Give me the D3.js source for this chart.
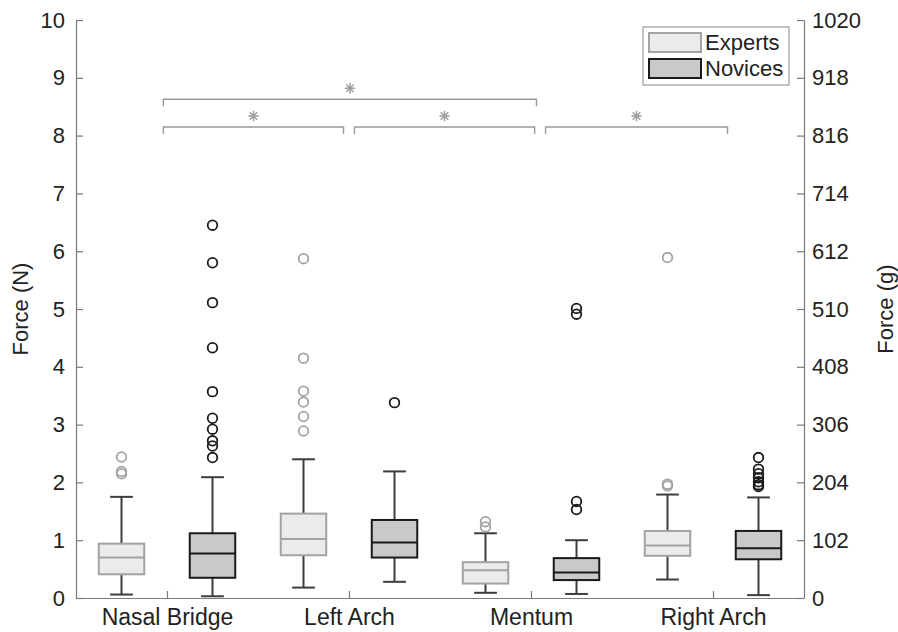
<!DOCTYPE html>
<html>
<head>
<meta charset="utf-8">
<script src="https://cdn.jsdelivr.net/npm/d3@7"></script>
<style>
  html, body { margin: 0; padding: 0; background: #fff; }
  svg { display: block; }
  text { font-family: "Liberation Sans", Arial, Helvetica, sans-serif; fill: #222; }
</style>
</head>
<body>
<svg id="chart" width="898" height="632"></svg>
<script>
// ---- data ----
const categories = ["Nasal Bridge", "Left Arch", "Mentum", "Right Arch"];
const groups = ["Experts", "Novices"];
// [lower whisker, Q1, median, Q3, upper whisker] in N
const expertsBox = [
  [0.06, 0.41, 0.70, 0.94, 1.75],
  [0.18, 0.74, 1.02, 1.46, 2.40],
  [0.09, 0.25, 0.48, 0.62, 1.12],
  [0.32, 0.73, 0.91, 1.16, 1.79]
];
const novicesBox = [
  [0.03, 0.35, 0.77, 1.12, 2.09],
  [0.28, 0.70, 0.96, 1.35, 2.19],
  [0.07, 0.31, 0.44, 0.69, 1.00],
  [0.05, 0.67, 0.86, 1.16, 1.74]
];
const expertsOutliers = [
  [2.44, 2.19, 2.15],
  [5.87, 4.15, 3.58, 3.39, 3.14, 2.89],
  [1.32, 1.23],
  [5.89, 1.97, 1.94]
];
const novicesOutliers = [
  [6.45, 5.80, 5.11, 4.33, 3.57, 3.11, 2.92, 2.72, 2.63, 2.43],
  [3.38],
  [5.01, 4.91, 1.67, 1.53],
  [2.43, 2.23, 2.15, 2.08, 2.01, 1.96, 1.93]
];
const leftTicks = [0, 1, 2, 3, 4, 5, 6, 7, 8, 9, 10];
const rightTicks = [0, 102, 204, 306, 408, 510, 612, 714, 816, 918, 1020];
// significance brackets: x in category-position units (1..4), y in N
const brackets = [
  { x0: 0.98, x1: 1.97, y: 8.15 },
  { x0: 2.03, x1: 3.02, y: 8.15 },
  { x0: 3.08, x1: 4.08, y: 8.15 },
  { x0: 0.98, x1: 3.03, y: 8.63 }
];

// ---- layout ----
const svg = d3.select("#chart");
const L = 76, R = 804, T = 20, B = 598;
const x = d3.scaleLinear().domain([0.5, 4.5]).range([L, R]);
const y = d3.scaleLinear().domain([0, 10]).range([B, T]);
const y2 = d3.scaleLinear().domain([0, 1020]).range([B, T]);

const styles = {
  Experts: { fill: "#ebebeb", edge: "#a3a3a3", median: "#a3a3a3", whisker: "#3d3d3d", outlier: "#a3a3a3", offset: -0.25 },
  Novices: { fill: "#c9c9c9", edge: "#1a1a1a", median: "#1a1a1a", whisker: "#3d3d3d", outlier: "#1a1a1a", offset: 0.25 }
};
const boxW = 0.25;
const capW = 0.125;

const axisColor = "#7a7a7a";
const fontSize = 22;
const fontFam = '"Liberation Sans", Arial, Helvetica, sans-serif';

// ---- axes ----
const gl = svg.append("g").attr("transform", `translate(${L},0)`)
  .call(d3.axisLeft(y).tickValues(leftTicks).tickFormat(d3.format("d")).tickSizeInner(-7).tickSizeOuter(0).tickPadding(11));
const gr = svg.append("g").attr("transform", `translate(${R},0)`)
  .call(d3.axisRight(y2).tickValues(rightTicks).tickFormat(d3.format("d")).tickSizeInner(-7).tickSizeOuter(0).tickPadding(8));
const gb = svg.append("g").attr("transform", `translate(0,${B})`)
  .call(d3.axisBottom(x).tickValues([1, 2, 3, 4]).tickFormat(d => categories[d - 1]).tickSizeInner(-7).tickSizeOuter(0).tickPadding(11));
[gl, gr, gb].forEach(g => {
  g.selectAll(".domain").attr("stroke", axisColor).attr("stroke-width", 1.2);
  g.selectAll(".tick line").attr("stroke", axisColor).attr("stroke-width", 1.2);
  g.selectAll(".tick text").attr("font-size", fontSize).attr("fill", "#222")
    .style("font-family", fontFam);
});
gb.selectAll(".tick text").attr("font-size", 23).attr("dy", "0.71em");

svg.append("text").attr("transform", `translate(28,${(T + B) / 2}) rotate(-90)`)
  .attr("text-anchor", "middle").attr("font-size", fontSize).text("Force (N)");
svg.append("text").attr("transform", `translate(893,${(T + B) / 2}) rotate(-90)`)
  .attr("text-anchor", "middle").attr("font-size", fontSize).text("Force (g)");

// ---- boxes ----
function drawGroup(name, boxes, outliers) {
  const s = styles[name];
  const g = svg.append("g");
  boxes.forEach((b, i) => {
    const cx = i + 1 + s.offset;
    const [lo, q1, med, q3, hi] = b;
    g.append("line").attr("x1", x(cx)).attr("x2", x(cx)).attr("y1", y(q3)).attr("y2", y(hi))
      .attr("stroke", s.whisker).attr("stroke-width", 2);
    g.append("line").attr("x1", x(cx)).attr("x2", x(cx)).attr("y1", y(q1)).attr("y2", y(lo))
      .attr("stroke", s.whisker).attr("stroke-width", 2);
    g.append("line").attr("x1", x(cx - capW / 2)).attr("x2", x(cx + capW / 2)).attr("y1", y(hi)).attr("y2", y(hi))
      .attr("stroke", s.whisker).attr("stroke-width", 2);
    g.append("line").attr("x1", x(cx - capW / 2)).attr("x2", x(cx + capW / 2)).attr("y1", y(lo)).attr("y2", y(lo))
      .attr("stroke", s.whisker).attr("stroke-width", 2);
    g.append("rect").attr("x", x(cx - boxW / 2)).attr("width", x(cx + boxW / 2) - x(cx - boxW / 2))
      .attr("y", y(q3)).attr("height", y(q1) - y(q3))
      .attr("fill", s.fill).attr("stroke", s.edge).attr("stroke-width", 2);
    g.append("line").attr("x1", x(cx - boxW / 2)).attr("x2", x(cx + boxW / 2)).attr("y1", y(med)).attr("y2", y(med))
      .attr("stroke", s.median).attr("stroke-width", 2);
    outliers[i].forEach(v => {
      g.append("circle").attr("cx", x(cx)).attr("cy", y(v)).attr("r", 4.8)
        .attr("fill", "none").attr("stroke", s.outlier).attr("stroke-width", 1.8);
    });
  });
}
drawGroup("Experts", expertsBox, expertsOutliers);
drawGroup("Novices", novicesBox, novicesOutliers);

// ---- significance brackets ----
const bg = svg.append("g");
brackets.forEach(b => {
  const yy = y(b.y);
  bg.append("path")
    .attr("d", `M${x(b.x0)},${yy + 7}V${yy}H${x(b.x1)}V${yy + 7}`)
    .attr("fill", "none").attr("stroke", "#999").attr("stroke-width", 1.4);
  const sx = x((b.x0 + b.x1) / 2), sy = yy - 11, r = 5.2, d = r * 0.72;
  bg.append("path")
    .attr("d", `M${sx - r},${sy}H${sx + r}M${sx},${sy - r}V${sy + r}M${sx - d},${sy - d}L${sx + d},${sy + d}M${sx - d},${sy + d}L${sx + d},${sy - d}`)
    .attr("stroke", "#a0a0a0").attr("stroke-width", 1.5);
});

// ---- legend ----
const lg = svg.append("g");
lg.append("rect").attr("x", 643).attr("y", 27).attr("width", 146).attr("height", 58)
  .attr("fill", "#fff").attr("stroke", "#8a8a8a").attr("stroke-width", 1);
groups.forEach((gname, i) => {
  const s = styles[gname];
  const yy = 33 + i * 26;
  lg.append("rect").attr("x", 649).attr("y", yy).attr("width", 52).attr("height", 19)
    .attr("fill", s.fill).attr("stroke", s.edge).attr("stroke-width", 2);
  lg.append("text").attr("x", 705).attr("y", yy + 9.5).attr("dy", "0.36em")
    .attr("font-size", fontSize).text(gname);
});
</script>
</body>
</html>
